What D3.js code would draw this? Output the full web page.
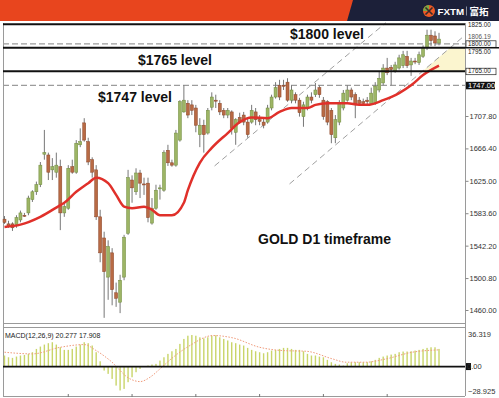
<!DOCTYPE html>
<html>
<head>
<meta charset="utf-8">
<script src="https://cdn.jsdelivr.net/npm/d3@7"></script>
<style>
  html, body { margin: 0; padding: 0; background: #fff; }
  svg { display: block; }
  .axis-lbl { font-family: 'Liberation Sans', Arial, sans-serif; font-size: 7.5px; fill: #333; }
  .tag-lbl { font-family: 'Liberation Sans', Arial, sans-serif; font-size: 6.3px; fill: #222; }
  .note { font-family: 'Liberation Sans', Arial, sans-serif; font-size: 14px; font-weight: 700; fill: #111; }
</style>
</head>
<body>
<div id="chart"></div>
<script>
// daily candles
const opens = [
  1576,1570,1570,1569,1575,1581,1584,1601,1611,1620,
  1659,1658,1639,1636,1643,1584,1590,1643,1636,1671,
  1699,1675,1652,1639,1579,1552,1502,1533,1482,1470,
  1502,1558,1626,1611,1635,1621,1622,1571,1590,1615,
  1613,1664,1648,1645,1677,1713,1724,1722,1718,1684,
  1696,1686,1719,1728,1724,1715,1709,1713,1687,1706,
  1709,1700,1700,1713,1703,1700,1700,1718,1732,1747,
  1747,1751,1728,1735,1728,1707,1718,1732,1735,1744,
  1728,1726,1715,1680,1700,1718,1728,1741,1735,1728,
  1726,1728,1724,1724,1741,1750,1769,1770,1765,1769,
  1772,1784,1773,1778,1776,1784,1795,1811,1810,1801
];
const highs = [
  1580,1574,1572,1581,1587,1584,1606,1613,1624,1649,
  1690,1661,1654,1661,1652,1597,1645,1652,1677,1692,
  1705,1680,1655,1645,1588,1560,1549,1539,1495,1505,
  1556,1639,1632,1641,1639,1629,1629,1603,1620,1620,
  1664,1671,1652,1690,1728,1747,1728,1728,1722,1705,
  1703,1718,1738,1735,1728,1718,1718,1715,1705,1712,
  1713,1705,1722,1718,1709,1705,1722,1735,1751,1754,
  1754,1756,1747,1738,1731,1726,1735,1738,1750,1747,
  1732,1728,1718,1709,1728,1741,1747,1744,1738,1732,
  1730,1732,1744,1751,1764,1774,1782,1773,1777,1786,
  1791,1791,1782,1782,1790,1798,1818,1818,1816,1814
];
const lows = [
  1570,1565,1561,1565,1572,1579,1581,1598,1607,1617,
  1652,1626,1626,1629,1562,1579,1588,1634,1634,1668,
  1675,1645,1629,1575,1521,1450,1473,1466,1464,1456,
  1498,1556,1597,1607,1603,1607,1572,1569,1588,1601,
  1611,1644,1643,1643,1675,1712,1705,1709,1687,1668,
  1661,1684,1715,1718,1709,1705,1705,1684,1671,1698,
  1696,1680,1698,1696,1696,1692,1698,1715,1730,1728,
  1741,1726,1724,1724,1707,1694,1715,1724,1732,1731,
  1703,1696,1673,1673,1696,1715,1726,1728,1705,1721,
  1722,1722,1722,1722,1738,1747,1760,1747,1763,1767,
  1769,1769,1759,1774,1773,1782,1792,1797,1797,1798
];
const closes = [
  1572,1567,1565,1578,1584,1580,1603,1611,1620,1645,
  1661,1636,1643,1645,1584,1592,1641,1636,1673,1675,
  1677,1649,1636,1579,1533,1509,1541,1486,1475,1498,
  1553,1629,1616,1635,1622,1620,1578,1590,1613,1616,
  1661,1648,1645,1686,1726,1728,1709,1715,1696,1696,
  1684,1715,1732,1727,1713,1709,1715,1692,1703,1700,
  1700,1684,1715,1703,1701,1696,1718,1732,1744,1732,
  1746,1728,1741,1728,1712,1722,1732,1728,1741,1735,
  1707,1700,1684,1703,1724,1737,1741,1732,1722,1724,
  1724,1726,1737,1746,1756,1769,1763,1767,1773,1782,
  1786,1772,1778,1777,1786,1795,1811,1804,1801,1806
];

// red moving average, read at points along the curve (candle index, price)
const maIdx = [0,4,9,14,15,18,21,23,26,28,30,32,35,37,39,42,45,46,49,52,56,59,62,66,69,72,76,78,81,86,89,91,95,99,102,105,109];
const maVal = [1566,1569,1579,1594,1597,1611,1622,1629,1622,1607,1592,1590,1592,1588,1581,1581,1597,1613,1648,1667,1686,1700,1706,1705,1713,1718,1718,1722,1724,1724,1722,1722,1728,1737,1747,1760,1772];

// MACD histogram per candle, signal line read at points
const macdHist = [
  12.7,10.7,10.0,11.5,12.7,13.4,14.6,16.5,20.3,23.0,
  25.3,26.9,28.0,25.3,22.2,19.2,19.2,20.3,23.0,25.3,
  28.0,26.9,24.2,16.5,6.1,-4.6,-8.4,-14.2,-21.9,-27.5,
  -25.7,-18.0,-12.3,-6.5,-2.7,0.3,1.2,2.3,3.1,6.9,
  10.7,14.6,17.6,20.3,26.1,31.8,35.5,36.3,35.5,33.7,
  32.5,33.7,35.5,36.0,33.7,31.8,30.0,28.0,26.9,25.3,
  24.2,21.5,19.2,17.6,16.5,15.3,16.5,18.4,19.2,20.3,
  21.5,21.5,20.3,19.2,19.2,17.6,14.6,12.7,12.7,11.5,
  10.7,7.7,5.0,3.1,2.3,1.2,3.8,5.0,5.0,5.0,
  5.0,5.0,6.1,7.7,10.0,11.5,12.7,13.8,14.6,16.5,
  17.3,17.3,17.6,18.4,19.2,20.3,21.5,22.2,22.2,20.3
];
const sigIdx = [0,7,14,20,23,26.5,31.5,34,36.5,39,42.3,46.5,52.3,57.3,64,69.8,75.7,82.3,85.7,90.7,95.7,102.3,109];
const sigVal = [16.5,14.6,22.2,25.3,18.4,6.9,-14.2,-17.3,-12.3,-2.7,10.7,24.2,35.7,33.0,22.2,18.4,17.6,8.8,5.0,5.0,8.8,16.5,19.2];
const macdTickIdx = [16,32,48,64,80,96];

// price axis + drawn levels
const priceTicks = [1460, 1500.8, 1542.2, 1583.6, 1625, 1666.4, 1707.8];
const solidLevels = [1825, 1795, 1765];
const dashedLevels = [1800, 1747];
const channelA = [[71.5, 1621], [115.3, 1810]];
const channelB = [[52.7, 1644], [95.7, 1827]];
const macdTicks = [36.319, -28.925];

const config = {
  width: 499,
  height: 398,
  left: 3,
  right: 465,
  mainTop: 23,
  mainBottom: 323,
  macdTop: 327,
  macdBottom: 396,
  green: '#9db565',
  greenEdge: '#6f8a3c',
  brown: '#b86a44',
  brownEdge: '#8a4428',
  ma: '#e0302a',
  hist: '#c9d56a',
  signal: '#f09a7a'
};

const svg = d3.select('#chart')
  .append('svg')
  .attr('width', config.width)
  .attr('height', config.height);

const x = d3.scaleLinear().domain([0, 109]).range([4.5, 439]);
const y = d3.scaleLinear().domain([1460, 1800]).range([310, 43.8]);
const ym = d3.scaleLinear().domain([-28.925, 36.319]).range([391.7, 335]);

// header
svg.append('rect').attr('x', 0).attr('y', 0).attr('width', config.width).attr('height', 21).attr('fill', '#1c2039');
svg.append('path').attr('d', 'M0,0 L353,0 L347,21 L0,21 Z').attr('fill', '#e8451e');
const logo = svg.append('g').attr('transform', 'translate(429,11)');
logo.append('circle').attr('r', 6).attr('fill', '#ef5a24');
logo.append('path').attr('d', 'M-6,0 A6,6 0 0,1 0,-6 L0,0 Z').attr('fill', '#7aa845');
logo.append('path').attr('d', 'M-3.5,-3.5 L3.5,3.5 M3.5,-3.5 L-3.5,3.5').attr('stroke', '#3a2a2a').attr('stroke-width', 1.6);
svg.append('text').attr('x', 437.5).attr('y', 15)
  .style('font-family', "'Liberation Sans', Arial, sans-serif").style('font-size', '9.8px').style('font-weight', 700)
  .attr('fill', '#fff').text('FXTM');
svg.append('line').attr('x1', 466.5).attr('x2', 466.5).attr('y1', 6.5).attr('y2', 15.5).attr('stroke', '#8890a0').attr('stroke-width', 1);
svg.append('text').attr('x', 469.5).attr('y', 15)
  .style('font-family', "'Noto Sans CJK SC', sans-serif").style('font-size', '9.5px').style('font-weight', 700)
  .attr('fill', '#fff').text('富拓');

// yellow zone right of the lower channel line, between 1765 and 1795
const slopeA = (channelA[1][1] - channelA[0][1]) / (channelA[1][0] - channelA[0][0]);
const idxOnA = p => channelA[0][0] + (p - channelA[0][1]) / slopeA;
svg.append('path')
  .attr('d', d3.line()([
    [x(idxOnA(solidLevels[2])), y(solidLevels[2])],
    [x(idxOnA(solidLevels[1])), y(solidLevels[1])],
    [config.right, y(solidLevels[1])],
    [config.right, y(solidLevels[2])]
  ]))
  .attr('fill', '#fbf5cf');

// frames
const frame = svg.append('g').attr('stroke', '#9a9a9a').attr('stroke-width', 1).attr('fill', 'none');
frame.append('line').attr('x1', config.left + 0.5).attr('x2', config.left + 0.5).attr('y1', config.mainTop).attr('y2', config.macdBottom);
frame.append('line').attr('x1', config.right + 0.5).attr('x2', config.right + 0.5).attr('y1', config.mainTop).attr('y2', config.macdBottom);
frame.append('line').attr('x1', config.left).attr('x2', config.right).attr('y1', config.mainBottom + 0.5).attr('y2', config.mainBottom + 0.5);
frame.append('line').attr('x1', config.left).attr('x2', config.right).attr('y1', config.macdTop + 0.5).attr('y2', config.macdTop + 0.5);
frame.append('line').attr('x1', config.left).attr('x2', config.right).attr('y1', config.macdBottom + 0.5).attr('y2', config.macdBottom + 0.5);

// dashed levels
svg.selectAll('.dash-level').data(dashedLevels).enter().append('line')
  .attr('x1', config.left).attr('x2', config.right)
  .attr('y1', d => y(d)).attr('y2', d => y(d))
  .attr('stroke', '#9c9c9c').attr('stroke-width', 1.2).attr('stroke-dasharray', '6,3');

// channel lines
svg.selectAll('.channel').data([channelA, channelB]).enter().append('path')
  .attr('d', d => d3.line()(d.map(p => [x(p[0]), y(p[1])])))
  .attr('stroke', '#a0a0a0').attr('stroke-width', 1).attr('stroke-dasharray', '6,4').attr('fill', 'none');

// candles
const candles = opens.map((o, i) => ({i, o, h: highs[i], l: lows[i], c: closes[i]}));
const cg = svg.append('g');
cg.selectAll('.wick').data(candles).enter().append('line')
  .attr('x1', d => x(d.i)).attr('x2', d => x(d.i))
  .attr('y1', d => y(d.h)).attr('y2', d => y(d.l))
  .attr('stroke', '#777').attr('stroke-width', 1);
cg.selectAll('.body').data(candles).enter().append('rect')
  .attr('x', d => x(d.i) - 1.5).attr('width', 3)
  .attr('y', d => y(Math.max(d.o, d.c)))
  .attr('height', d => Math.max(1, Math.abs(y(d.o) - y(d.c))))
  .attr('fill', d => d.c >= d.o ? config.green : config.brown)
  .attr('stroke', d => d.c >= d.o ? config.greenEdge : config.brownEdge)
  .attr('stroke-width', 0.5);

// moving average
svg.append('path')
  .attr('d', d3.line().curve(d3.curveMonotoneX)(maIdx.map((d, i) => [x(d), y(maVal[i])])))
  .attr('stroke', config.ma).attr('stroke-width', 2.5).attr('fill', 'none');

// solid black levels
svg.selectAll('.solid-level').data(solidLevels).enter().append('line')
  .attr('x1', config.left).attr('x2', config.right)
  .attr('y1', d => y(d)).attr('y2', d => y(d))
  .attr('stroke', '#111').attr('stroke-width', 2);

// price axis
const yAxis = d3.axisRight(y).tickValues(priceTicks).tickSize(3).tickFormat(d3.format('.2f'));
const ax = svg.append('g').attr('transform', `translate(${config.right + 0.5},0)`).call(yAxis);
ax.select('.domain').remove();
ax.selectAll('line').attr('stroke', '#888');
ax.attr('font-family', null).attr('font-size', null);
ax.selectAll('text').attr('class', 'axis-lbl').attr('x', 4).attr('dy', '0.32em');

// level price tags on the axis (placed where the picture shows them)
const tag = (p, ty, txt, style) => {
  const g = svg.append('g');
  if (style === 'dark') {
    g.append('rect').attr('x', config.right + 1).attr('y', ty - 3.5).attr('width', 29).attr('height', 7.5).attr('fill', '#111');
  } else if (style === 'box') {
    g.append('rect').attr('x', config.right + 1).attr('y', ty - 3).attr('width', 30).attr('height', 6.5)
      .attr('fill', '#fff').attr('stroke', '#222').attr('stroke-width', 0.7);
  }
  g.append('text').attr('class', style === 'dark' ? 'axis-lbl' : 'tag-lbl').attr('x', config.right + 3).attr('y', ty).attr('dy', '0.34em')
    .style('fill', style === 'dark' ? '#fff' : (style === 'faint' ? '#555' : '#222')).text(txt);
};
tag(1825, y(1825) + 0.5, '1825.00', 'plain');
tag(1806.19, y(1806.19) - 2.2, '1806.19', 'faint');
tag(1800, y(1800), '1800.00', 'box');
tag(1795, y(1795) + 4, '1795.00', 'plain');
tag(1765, y(1765), '1765.00', 'box');
tag(1747, y(1747), '1747.00', 'dark');
svg.append('line').attr('x1', config.right).attr('x2', config.width).attr('y1', y(1795)).attr('y2', y(1795)).attr('stroke', '#111').attr('stroke-width', 1.5);

// annotations
svg.append('text').attr('class', 'note').attr('x', 290).attr('y', 38.5).text('$1800 level');
svg.append('text').attr('class', 'note').attr('x', 138).attr('y', 65).text('$1765 level');
svg.append('text').attr('class', 'note').attr('x', 98).attr('y', 101.5).text('$1747 level');
svg.append('text').attr('class', 'note').attr('x', 258).attr('y', 244).text('GOLD D1 timeframe');

// MACD panel
svg.selectAll('.hist').data(macdHist).enter().append('rect')
  .attr('x', (d, i) => x(i) - 0.7).attr('width', 1.4)
  .attr('y', d => Math.min(ym(d), ym(0)))
  .attr('height', d => Math.abs(ym(d) - ym(0)))
  .attr('fill', config.hist);
svg.append('path')
  .attr('d', d3.line().curve(d3.curveMonotoneX)(sigIdx.map((d, i) => [x(d), ym(sigVal[i])])))
  .attr('stroke', config.signal).attr('stroke-width', 1).attr('stroke-dasharray', '1.5,1.5').attr('fill', 'none');
svg.append('line').attr('x1', config.left).attr('x2', config.right).attr('y1', ym(0)).attr('y2', ym(0))
  .attr('stroke', '#111').attr('stroke-width', 1.8);
svg.selectAll('.mtick').data(macdTickIdx).enter().append('line')
  .attr('x1', d => x(d)).attr('x2', d => x(d)).attr('y1', config.macdBottom - 2).attr('y2', config.macdBottom + 1)
  .attr('stroke', '#777');

svg.selectAll('.mlbl').data(macdTicks).enter().append('text')
  .attr('class', 'axis-lbl').attr('x', config.right + 3).attr('y', d => ym(d)).attr('dy', '0.32em')
  .text(d => d3.format('.3f')(d));
svg.append('rect').attr('x', config.right + 1).attr('y', ym(0) - 3.5).attr('width', 5).attr('height', 7).attr('fill', '#111');
svg.append('text').attr('class', 'axis-lbl').attr('x', config.right + 2).attr('y', ym(0)).attr('dy', '0.32em').text('0.00');

svg.append('text').attr('x', 5).attr('y', 337.5)
  .style('font-family', "'Liberation Sans', Arial, sans-serif").style('font-size', '7px').attr('fill', '#222')
  .text('MACD(12,26,9) 20.277 17.908');
</script>
</body>
</html>
